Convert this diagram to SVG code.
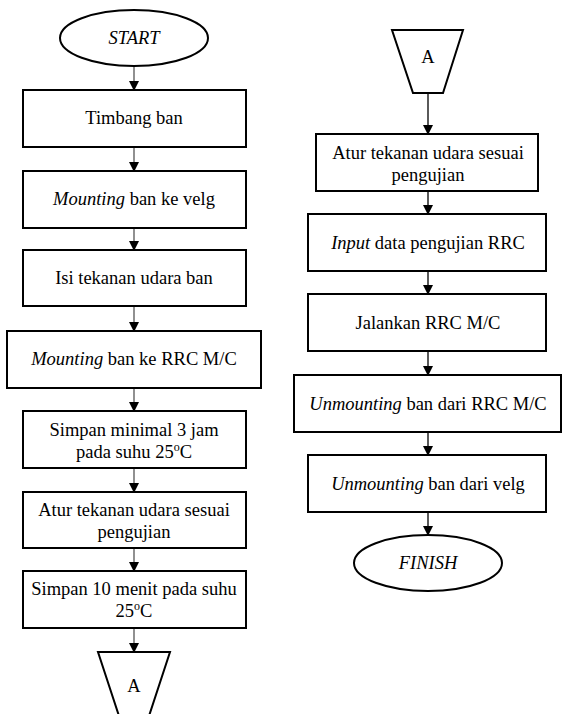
<svg xmlns="http://www.w3.org/2000/svg" width="568" height="714" viewBox="0 0 568 714" font-family="Liberation Serif, Times New Roman, serif">
<defs>
<marker id="ah" markerWidth="10" markerHeight="10" refX="9" refY="5" orient="auto" markerUnits="userSpaceOnUse">
<path d="M0,0 L10,5 L0,10 Z" fill="#000"/>
</marker>
<style>
.n{fill:#fff;stroke:#000;stroke-width:2}
.t{font-size:18.5px;fill:#000;text-anchor:middle}
.i{font-style:italic}
.c{fill:none;stroke:#000;stroke-width:1.3}
.g{stroke:#555}
</style>
</defs>
<rect width="568" height="714" fill="#fff"/>
<g id="connectors">
<line class="c g" x1="134" y1="66" x2="134" y2="90" marker-end="url(#ah)"/>
<line class="c g" x1="134" y1="147" x2="134" y2="171" marker-end="url(#ah)"/>
<line class="c g" x1="134" y1="228" x2="134" y2="250" marker-end="url(#ah)"/>
<line class="c g" x1="134" y1="306" x2="134" y2="331" marker-end="url(#ah)"/>
<line class="c g" x1="134" y1="388" x2="134" y2="411" marker-end="url(#ah)"/>
<line class="c g" x1="134" y1="468" x2="134" y2="492" marker-end="url(#ah)"/>
<line class="c g" x1="134" y1="548" x2="134" y2="571" marker-end="url(#ah)"/>
<line class="c g" x1="134" y1="628" x2="134" y2="652" marker-end="url(#ah)"/>
<line class="c" x1="428" y1="93" x2="428" y2="134" marker-end="url(#ah)"/>
<line class="c" x1="428" y1="191" x2="428" y2="214" marker-end="url(#ah)"/>
<line class="c" x1="428" y1="271" x2="428" y2="294" marker-end="url(#ah)"/>
<line class="c" x1="428" y1="351" x2="428" y2="375" marker-end="url(#ah)"/>
<line class="c" x1="428" y1="432" x2="428" y2="455" marker-end="url(#ah)"/>
<line class="c" x1="428" y1="512" x2="428" y2="535" marker-end="url(#ah)"/>
</g>
<g id="start">
<ellipse class="n" cx="134" cy="38" rx="74" ry="28"/>
<text class="t i" x="134" y="44">START</text>
</g>
<g id="timbang">
<rect class="n" x="23" y="90" width="223" height="57"/>
<text class="t" x="134" y="124">Timbang ban</text>
</g>
<g id="mounting-velg">
<rect class="n" x="23" y="171" width="223" height="57"/>
<text class="t" x="134" y="205"><tspan class="i">Mounting</tspan> ban ke velg</text>
</g>
<g id="isi">
<rect class="n" x="23" y="250" width="223" height="56"/>
<text class="t" x="134" y="284">Isi tekanan udara ban</text>
</g>
<g id="mounting-rrc">
<rect class="n" x="7" y="331" width="254" height="57"/>
<text class="t" x="134" y="365"><tspan class="i">Mounting</tspan> ban ke RRC M/C</text>
</g>
<g id="simpan3">
<rect class="n" x="23" y="411" width="223" height="57"/>
<text class="t" x="134" y="436">Simpan minimal 3 jam</text>
<text class="t" x="134" y="458">pada suhu 25<tspan font-size="12" dy="-7">o</tspan><tspan dy="7">C</tspan></text>
</g>
<g id="atur1">
<rect class="n" x="23" y="492" width="223" height="56"/>
<text class="t" x="134" y="516">Atur tekanan udara sesuai</text>
<text class="t" x="134" y="538">pengujian</text>
</g>
<g id="simpan10">
<rect class="n" x="23" y="571" width="223" height="57"/>
<text class="t" x="134" y="595">Simpan 10 menit pada suhu</text>
<text class="t" x="134" y="617">25<tspan font-size="12" dy="-7">o</tspan><tspan dy="7">C</tspan></text>
</g>
<g id="offpage-a1">
<polygon class="n" points="98,652 170,652 149,716 119,716"/>
<text class="t" x="134" y="692">A</text>
</g>
<g id="offpage-a2">
<polygon class="n" points="392,30 463,30 443,93 413,93"/>
<text class="t" x="428" y="63">A</text>
</g>
<g id="atur2">
<rect class="n" x="316" y="134" width="222" height="57"/>
<text class="t" x="428" y="159">Atur tekanan udara sesuai</text>
<text class="t" x="428" y="181">pengujian</text>
</g>
<g id="input">
<rect class="n" x="308" y="214" width="238" height="57"/>
<text class="t" x="428" y="249"><tspan class="i">Input</tspan> data pengujian RRC</text>
</g>
<g id="jalankan">
<rect class="n" x="308" y="294" width="238" height="57"/>
<text class="t" x="428" y="329">Jalankan RRC M/C</text>
</g>
<g id="unmount-rrc">
<rect class="n" x="294" y="375" width="267" height="57"/>
<text class="t" x="428" y="410"><tspan class="i">Unmounting</tspan> ban dari RRC M/C</text>
</g>
<g id="unmount-velg">
<rect class="n" x="308" y="455" width="238" height="57"/>
<text class="t" x="428" y="490"><tspan class="i">Unmounting</tspan> ban dari velg</text>
</g>
<g id="finish">
<ellipse class="n" cx="428" cy="563" rx="74" ry="28"/>
<text class="t i" x="428" y="569">FINISH</text>
</g>
</svg>
